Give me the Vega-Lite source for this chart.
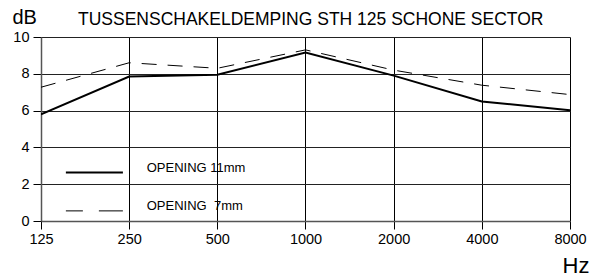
{
  "$schema": "https://vega.github.io/schema/vega-lite/v6.json",
  "width": 529,
  "height": 184,
  "autosize": {"type": "none"},
  "padding": {"left": 41, "top": 37, "right": 25, "bottom": 58},
  "background": "white",
  "config": {"view": {"stroke": null}, "font": "Liberation Sans"},
  "title": {
    "text": "TUSSENSCHAKELDEMPING STH 125 SCHONE SECTOR",
    "font": "Liberation Sans",
    "fontSize": 17.5,
    "fontWeight": "normal",
    "color": "black",
    "anchor": "start",
    "frame": "group",
    "dx": 37,
    "dy": 35,
    "offset": 0,
    "baseline": "alphabetic"
  },
  "datasets": {
    "curves": [
      {"hz": 125, "db": 5.8, "series": "OPENING 11mm"},
      {"hz": 250, "db": 7.85, "series": "OPENING 11mm"},
      {"hz": 500, "db": 7.95, "series": "OPENING 11mm"},
      {"hz": 1000, "db": 9.15, "series": "OPENING 11mm"},
      {"hz": 2000, "db": 7.9, "series": "OPENING 11mm"},
      {"hz": 4000, "db": 6.5, "series": "OPENING 11mm"},
      {"hz": 8000, "db": 6.02, "series": "OPENING 11mm"},
      {"hz": 125, "db": 7.27, "series": "OPENING 7mm"},
      {"hz": 250, "db": 8.6, "series": "OPENING 7mm"},
      {"hz": 500, "db": 8.3, "series": "OPENING 7mm"},
      {"hz": 1000, "db": 9.3, "series": "OPENING 7mm"},
      {"hz": 2000, "db": 8.2, "series": "OPENING 7mm"},
      {"hz": 4000, "db": 7.38, "series": "OPENING 7mm"},
      {"hz": 8000, "db": 6.87, "series": "OPENING 7mm"}
    ],
    "keylines": [
      {"hz": 152, "db": 2.64, "series": "OPENING 11mm"},
      {"hz": 238, "db": 2.64, "series": "OPENING 11mm"},
      {"hz": 152, "db": 0.55, "series": "OPENING 7mm"},
      {"hz": 238, "db": 0.55, "series": "OPENING 7mm"}
    ],
    "keytext": [
      {"hz": 287, "db": 2.66, "label": "OPENING 11mm"},
      {"hz": 287, "db": 0.6, "label": "OPENING\u00a0 7mm"}
    ]
  },
  "layer": [
    {
      "data": {"name": "curves"},
      "transform": [{"filter": "datum.series == 'OPENING 11mm'"}],
      "mark": {"type": "line", "color": "black", "strokeWidth": 2, "clip": true},
      "encoding": {
        "x": {
          "field": "hz",
          "type": "quantitative",
          "scale": {"type": "log", "base": 2, "domain": [125, 8000], "nice": false},
          "axis": {
            "values": [125, 250, 500, 1000, 2000, 4000, 8000],
            "grid": true,
            "gridColor": "black",
            "gridOpacity": 1,
            "gridWidth": 1,
            "domainColor": "#555",
            "domainWidth": 1.5,
            "tickColor": "black",
            "tickSize": 8,
            "labelFont": "Liberation Sans",
            "labelFontSize": 14.5,
            "labelColor": "black",
            "labelPadding": 3,
            "labelFlush": false,
            "labelOverlap": false,
            "format": "d",
            "title": "Hz",
            "titleFont": "Liberation Sans",
            "titleFontSize": 22,
            "titleFontWeight": "normal",
            "titleColor": "black",
            "titleAlign": "left",
            "titleBaseline": "alphabetic",
            "titleX": 521,
            "titleY": 51
          }
        },
        "y": {
          "field": "db",
          "type": "quantitative",
          "scale": {"domain": [0, 10], "nice": false},
          "axis": {
            "values": [0, 2, 4, 6, 8, 10],
            "tickCount": 6,
            "grid": true,
            "gridColor": "#222",
            "gridOpacity": 1,
            "gridWidth": 1,
            "domainColor": "#555",
            "domainWidth": 1.5,
            "tickColor": "black",
            "tickSize": 8,
            "labelFont": "Liberation Sans",
            "labelFontSize": 14.5,
            "labelColor": "black",
            "labelPadding": 4,
            "labelFlush": false,
            "labelOverlap": false,
            "title": "dB",
            "titleAngle": 0,
            "titleFont": "Liberation Sans",
            "titleFontSize": 20,
            "titleFontWeight": "normal",
            "titleColor": "black",
            "titleAlign": "left",
            "titleBaseline": "alphabetic",
            "titleX": -29,
            "titleY": -14
          }
        }
      }
    },
    {
      "data": {"name": "curves"},
      "transform": [{"filter": "datum.series == 'OPENING 7mm'"}],
      "mark": {"type": "line", "color": "black", "strokeWidth": 1, "strokeDash": [15, 11]},
      "encoding": {
        "x": {"field": "hz", "type": "quantitative"},
        "y": {"field": "db", "type": "quantitative"}
      }
    },
    {
      "data": {"name": "keylines"},
      "transform": [{"filter": "datum.series == 'OPENING 11mm'"}],
      "mark": {"type": "line", "color": "black", "strokeWidth": 2},
      "encoding": {
        "x": {"field": "hz", "type": "quantitative"},
        "y": {"field": "db", "type": "quantitative"}
      }
    },
    {
      "data": {"name": "keylines"},
      "transform": [{"filter": "datum.series == 'OPENING 7mm'"}],
      "mark": {"type": "line", "color": "black", "strokeWidth": 1, "strokeDash": [24, 16], "strokeDashOffset": 7},
      "encoding": {
        "x": {"field": "hz", "type": "quantitative"},
        "y": {"field": "db", "type": "quantitative"}
      }
    },
    {
      "data": {"name": "keytext"},
      "mark": {"type": "text", "align": "left", "baseline": "alphabetic", "font": "Liberation Sans", "fontSize": 13, "color": "black"},
      "encoding": {
        "x": {"field": "hz", "type": "quantitative"},
        "y": {"field": "db", "type": "quantitative"},
        "text": {"field": "label"}
      }
    }
  ]
}
